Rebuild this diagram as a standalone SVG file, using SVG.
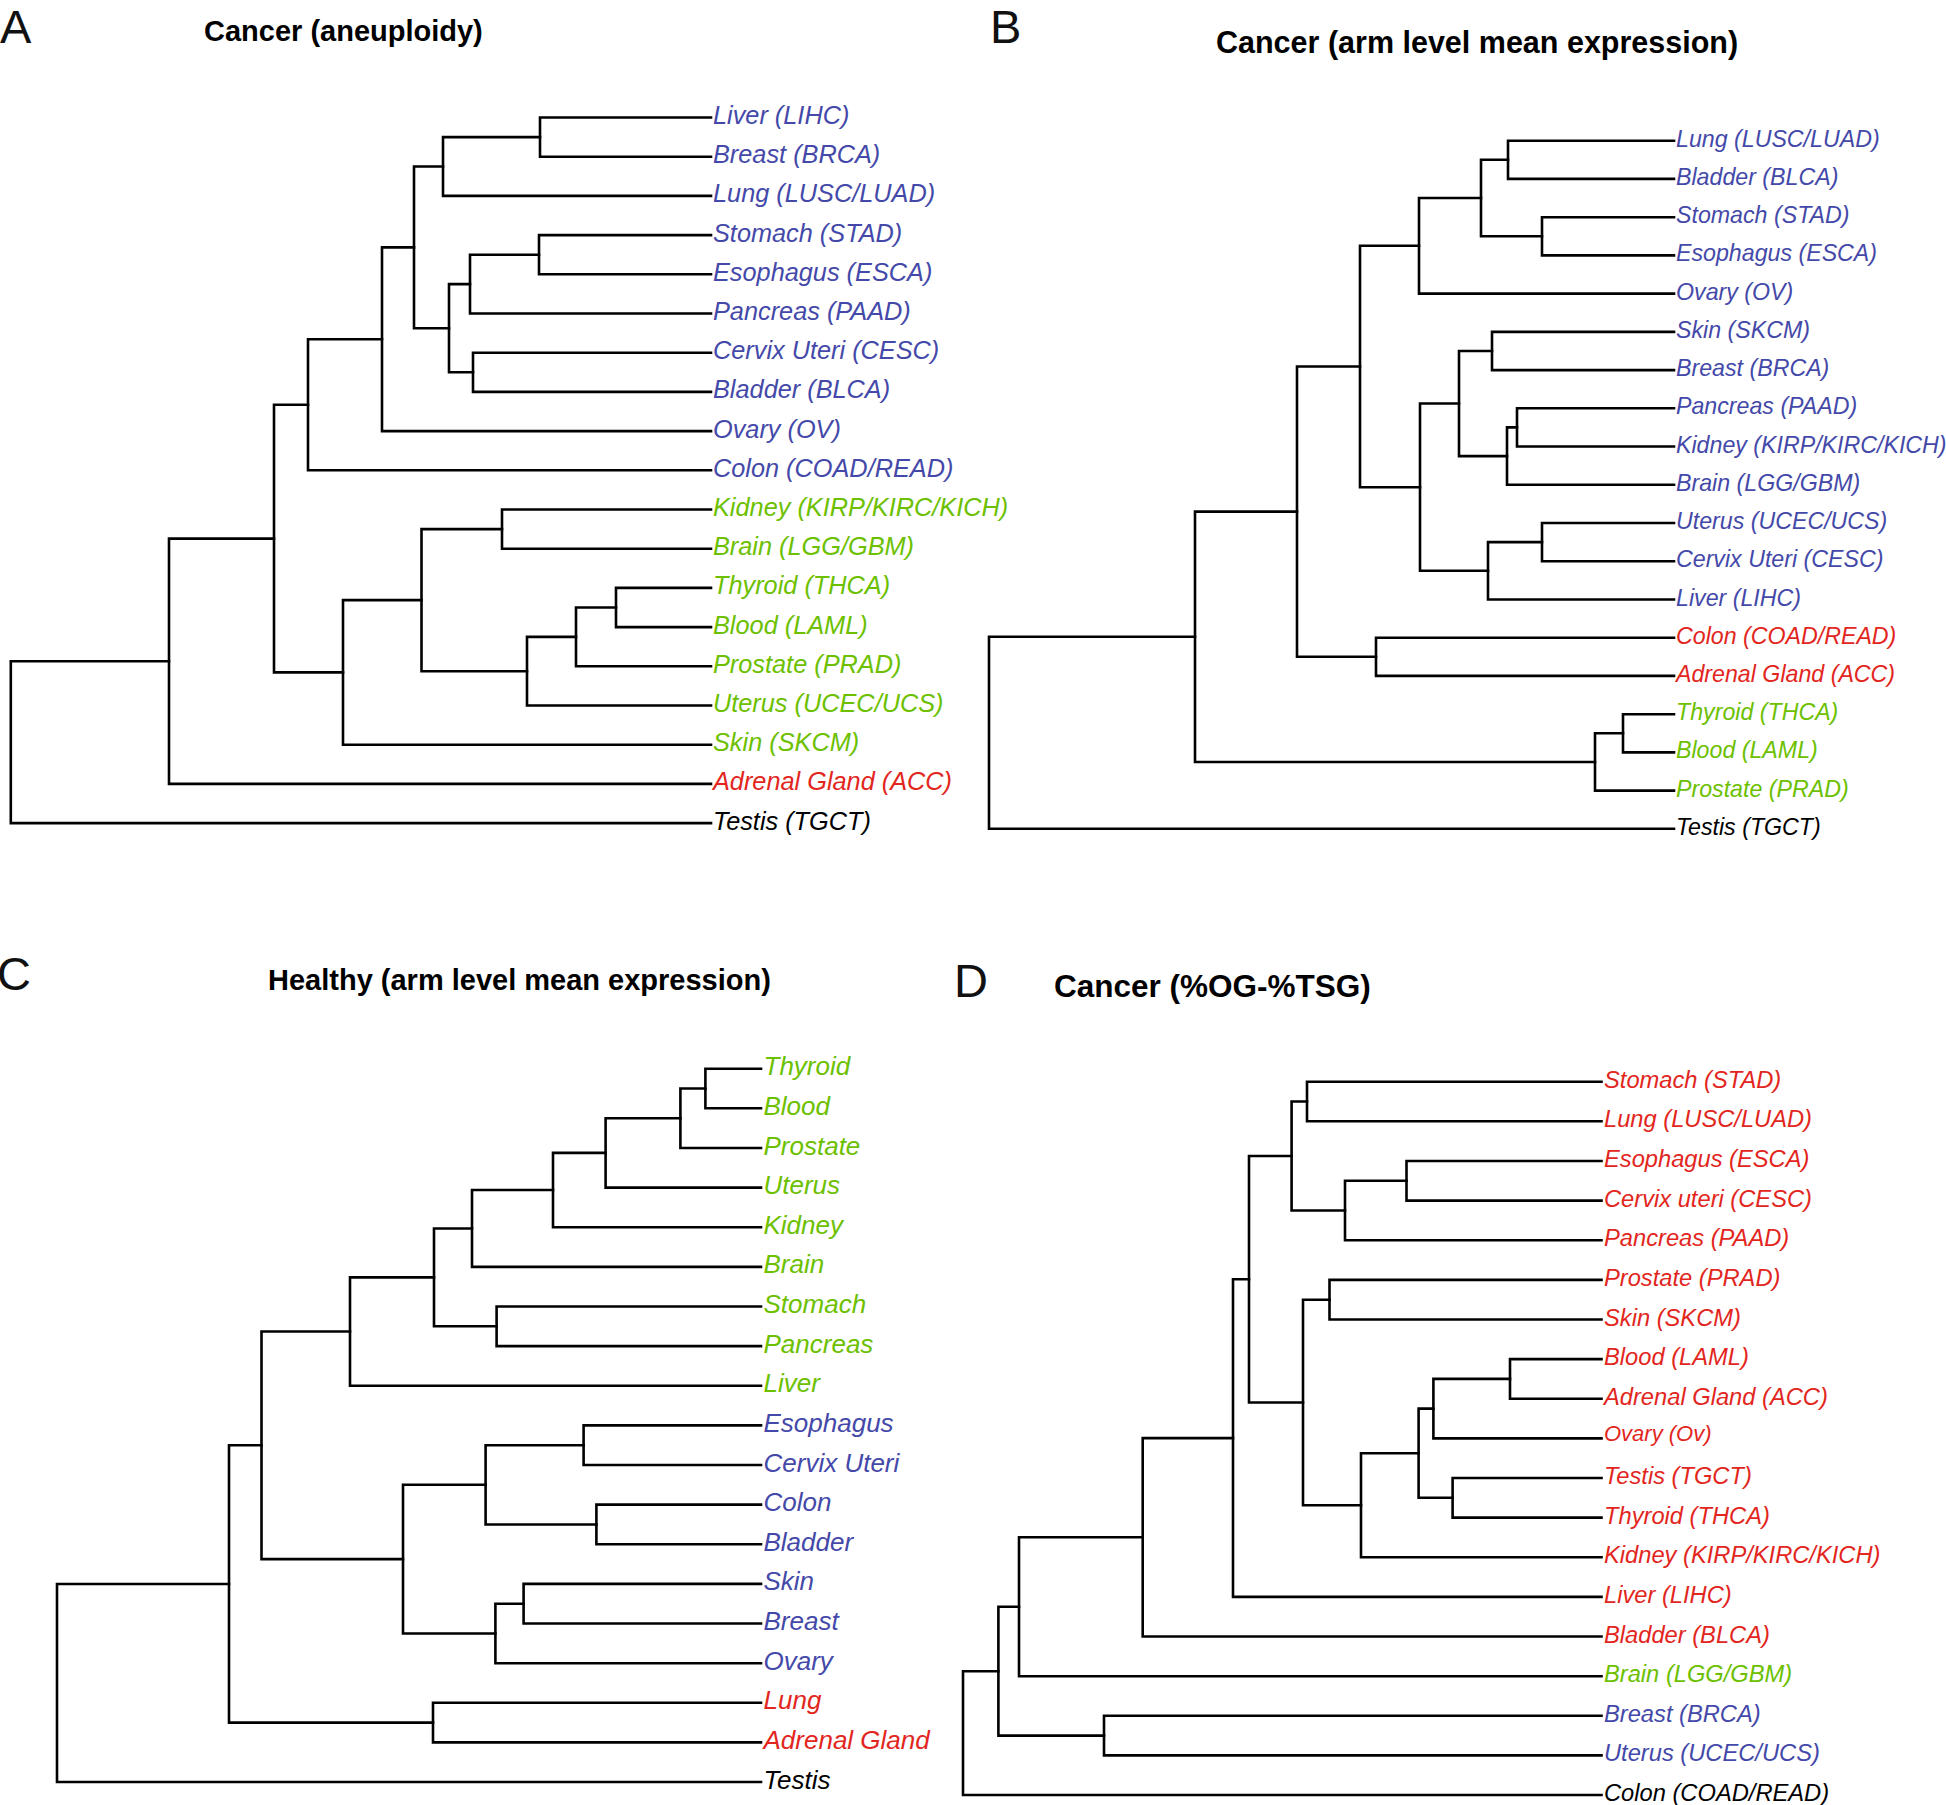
<svg xmlns="http://www.w3.org/2000/svg" width="1946" height="1805" viewBox="0 0 1946 1805">
<style>
.bg{fill:#fff}
.plabel{font-family:"Liberation Sans",Arial,sans-serif;font-size:47px;fill:#111}
.title{font-family:"Liberation Sans",Arial,sans-serif;font-weight:bold;fill:#000}
.lf{font-family:"Liberation Sans",Arial,sans-serif;font-style:italic}
.A .lf{font-size:25.3px}
.B .lf{font-size:23.2px}
.C .lf{font-size:26px}
.D .lf{font-size:23.7px}
.blue{fill:#4449a9}
.green{fill:#6cc000}
.red{fill:#e2261d}
.black{fill:#000}
.edges path{fill:none;stroke:#000;stroke-width:2.6;stroke-linecap:square;stroke-linejoin:miter}
</style>
<rect class="bg" x="0" y="0" width="1946" height="1805"/>

<!-- Panel A -->
<g id="panelA" class="A">
<text class="plabel" x="0" y="43">A</text>
<text class="title" x="204" y="41" font-size="29">Cancer (aneuploidy)</text>
<g id="A-edges" class="edges">
<path d="M711 117.5H540V156.7H711"/>
<path d="M540 137.1H443V195.9H711"/>
<path d="M711 235.1H539V274.3H711"/>
<path d="M539 254.7H470V313.5H711"/>
<path d="M711 352.7H473V391.9H711"/>
<path d="M470 284.1H449V372.3H473"/>
<path d="M443 166.5H414V328.2H449"/>
<path d="M414 247.35H382V431.1H711"/>
<path d="M382 339.2H308V470.3H711"/>
<path d="M711 509.5H502V548.7H711"/>
<path d="M711 587.9H616V627.1H711"/>
<path d="M616 607.5H576V666.3H711"/>
<path d="M576 636.9H527V705.5H711"/>
<path d="M502 529.1H421.5V671.2H527"/>
<path d="M421.5 600.15H343V744.7H711"/>
<path d="M308 404.75H274V672.4H343"/>
<path d="M274 538.6H169V783.9H711"/>
<path d="M169 661.25H10.8V823.1H711"/>
</g>
<g id="A-liver"><text class="lf blue" x="713" y="124">Liver (LIHC)</text></g>
<g id="A-breast"><text class="lf blue" x="713" y="163.2">Breast (BRCA)</text></g>
<g id="A-lung"><text class="lf blue" x="713" y="202.4">Lung (LUSC/LUAD)</text></g>
<g id="A-stomach"><text class="lf blue" x="713" y="241.6">Stomach (STAD)</text></g>
<g id="A-esophagus"><text class="lf blue" x="713" y="280.8">Esophagus (ESCA)</text></g>
<g id="A-pancreas"><text class="lf blue" x="713" y="320">Pancreas (PAAD)</text></g>
<g id="A-cervix"><text class="lf blue" x="713" y="359.2">Cervix Uteri (CESC)</text></g>
<g id="A-bladder"><text class="lf blue" x="713" y="398.4">Bladder (BLCA)</text></g>
<g id="A-ovary"><text class="lf blue" x="713" y="437.6">Ovary (OV)</text></g>
<g id="A-colon"><text class="lf blue" x="713" y="476.8">Colon (COAD/READ)</text></g>
<g id="A-kidney"><text class="lf green" x="713" y="516">Kidney (KIRP/KIRC/KICH)</text></g>
<g id="A-brain"><text class="lf green" x="713" y="555.2">Brain (LGG/GBM)</text></g>
<g id="A-thyroid"><text class="lf green" x="713" y="594.4">Thyroid (THCA)</text></g>
<g id="A-blood"><text class="lf green" x="713" y="633.6">Blood (LAML)</text></g>
<g id="A-prostate"><text class="lf green" x="713" y="672.8">Prostate (PRAD)</text></g>
<g id="A-uterus"><text class="lf green" x="713" y="712">Uterus (UCEC/UCS)</text></g>
<g id="A-skin"><text class="lf green" x="713" y="751.2">Skin (SKCM)</text></g>
<g id="A-adrenal"><text class="lf red" x="713" y="790.4">Adrenal Gland (ACC)</text></g>
<g id="A-testis"><text class="lf black" x="713" y="829.6">Testis (TGCT)</text></g>
</g>

<!-- Panel B -->
<g id="panelB" class="B">
<text class="plabel" x="990" y="43">B</text>
<text class="title" x="1216" y="53" font-size="30.5">Cancer (arm level mean expression)</text>
<g id="B-edges" class="edges">
<path d="M1674 140.7H1508V178.9H1674"/>
<path d="M1674 217.2H1542V255.4H1674"/>
<path d="M1508 159.8H1481V236.3H1542"/>
<path d="M1481 198.05H1419V293.6H1674"/>
<path d="M1674 331.9H1492V370.1H1674"/>
<path d="M1674 408.3H1517V446.5H1674"/>
<path d="M1517 427.4H1507V484.8H1674"/>
<path d="M1492 351H1459V456.1H1507"/>
<path d="M1674 523H1542V561.2H1674"/>
<path d="M1542 542.1H1488V599.5H1674"/>
<path d="M1459 403.55H1420V570.8H1488"/>
<path d="M1419 245.8H1360V487.2H1420"/>
<path d="M1674 637.7H1376V675.9H1674"/>
<path d="M1360 366.5H1297V656.8H1376"/>
<path d="M1674 714.2H1623V752.4H1674"/>
<path d="M1623 733.3H1595V790.6H1674"/>
<path d="M1297 511.65H1195V761.95H1595"/>
<path d="M1195 636.8H989V828.8H1674"/>
</g>
<g id="B-lung"><text class="lf blue" x="1676" y="146.7">Lung (LUSC/LUAD)</text></g>
<g id="B-bladder"><text class="lf blue" x="1676" y="184.9">Bladder (BLCA)</text></g>
<g id="B-stomach"><text class="lf blue" x="1676" y="223.2">Stomach (STAD)</text></g>
<g id="B-esophagus"><text class="lf blue" x="1676" y="261.4">Esophagus (ESCA)</text></g>
<g id="B-ovary"><text class="lf blue" x="1676" y="299.6">Ovary (OV)</text></g>
<g id="B-skin"><text class="lf blue" x="1676" y="337.9">Skin (SKCM)</text></g>
<g id="B-breast"><text class="lf blue" x="1676" y="376.1">Breast (BRCA)</text></g>
<g id="B-pancreas"><text class="lf blue" x="1676" y="414.3">Pancreas (PAAD)</text></g>
<g id="B-kidney"><text class="lf blue" x="1676" y="452.5">Kidney (KIRP/KIRC/KICH)</text></g>
<g id="B-brain"><text class="lf blue" x="1676" y="490.8">Brain (LGG/GBM)</text></g>
<g id="B-uterus"><text class="lf blue" x="1676" y="529">Uterus (UCEC/UCS)</text></g>
<g id="B-cervix"><text class="lf blue" x="1676" y="567.2">Cervix Uteri (CESC)</text></g>
<g id="B-liver"><text class="lf blue" x="1676" y="605.5">Liver (LIHC)</text></g>
<g id="B-colon"><text class="lf red" x="1676" y="643.7">Colon (COAD/READ)</text></g>
<g id="B-adrenal"><text class="lf red" x="1676" y="681.9">Adrenal Gland (ACC)</text></g>
<g id="B-thyroid"><text class="lf green" x="1676" y="720.2">Thyroid (THCA)</text></g>
<g id="B-blood"><text class="lf green" x="1676" y="758.4">Blood (LAML)</text></g>
<g id="B-prostate"><text class="lf green" x="1676" y="796.6">Prostate (PRAD)</text></g>
<g id="B-testis"><text class="lf black" x="1676" y="834.8">Testis (TGCT)</text></g>
</g>

<!-- Panel C -->
<g id="panelC" class="C">
<text class="plabel" x="-3" y="990">C</text>
<text class="title" x="268" y="990" font-size="29">Healthy (arm level mean expression)</text>
<g id="C-edges" class="edges">
<path d="M761 1068.7H705.4V1108.3H761"/>
<path d="M705.4 1088.5H680.4V1148H761"/>
<path d="M680.4 1118.25H605.6V1187.6H761"/>
<path d="M605.6 1152.9H553V1227.2H761"/>
<path d="M553 1190.05H472V1266.9H761"/>
<path d="M761 1306.5H496.6V1346.1H761"/>
<path d="M472 1228.5H434V1326.3H496.6"/>
<path d="M434 1277.4H350V1385.7H761"/>
<path d="M761 1425.4H583.6V1465H761"/>
<path d="M761 1504.6H596.4V1544.3H761"/>
<path d="M583.6 1445.2H485.6V1524.45H596.4"/>
<path d="M761 1583.9H523.6V1623.5H761"/>
<path d="M523.6 1603.7H495.4V1663.2H761"/>
<path d="M485.6 1484.8H403V1633.45H495.4"/>
<path d="M350 1331.55H261.5V1559.1H403"/>
<path d="M761 1702.8H433V1742.4H761"/>
<path d="M261.5 1445.3H229V1722.6H433"/>
<path d="M229 1583.95H57V1782H761"/>
</g>
<g id="C-thyroid"><text class="lf green" x="763.5" y="1075.2">Thyroid</text></g>
<g id="C-blood"><text class="lf green" x="763.5" y="1114.8">Blood</text></g>
<g id="C-prostate"><text class="lf green" x="763.5" y="1154.5">Prostate</text></g>
<g id="C-uterus"><text class="lf green" x="763.5" y="1194.1">Uterus</text></g>
<g id="C-kidney"><text class="lf green" x="763.5" y="1233.7">Kidney</text></g>
<g id="C-brain"><text class="lf green" x="763.5" y="1273.4">Brain</text></g>
<g id="C-stomach"><text class="lf green" x="763.5" y="1313">Stomach</text></g>
<g id="C-pancreas"><text class="lf green" x="763.5" y="1352.6">Pancreas</text></g>
<g id="C-liver"><text class="lf green" x="763.5" y="1392.2">Liver</text></g>
<g id="C-esophagus"><text class="lf blue" x="763.5" y="1431.9">Esophagus</text></g>
<g id="C-cervix"><text class="lf blue" x="763.5" y="1471.5">Cervix Uteri</text></g>
<g id="C-colon"><text class="lf blue" x="763.5" y="1511.1">Colon</text></g>
<g id="C-bladder"><text class="lf blue" x="763.5" y="1550.8">Bladder</text></g>
<g id="C-skin"><text class="lf blue" x="763.5" y="1590.4">Skin</text></g>
<g id="C-breast"><text class="lf blue" x="763.5" y="1630">Breast</text></g>
<g id="C-ovary"><text class="lf blue" x="763.5" y="1669.7">Ovary</text></g>
<g id="C-lung"><text class="lf red" x="763.5" y="1709.3">Lung</text></g>
<g id="C-adrenal"><text class="lf red" x="763.5" y="1748.9">Adrenal Gland</text></g>
<g id="C-testis"><text class="lf black" x="763.5" y="1788.5">Testis</text></g>
</g>

<!-- Panel D -->
<g id="panelD" class="D">
<text class="plabel" x="954" y="997">D</text>
<text class="title" x="1054" y="997" font-size="31.5">Cancer (%OG-%TSG)</text>
<g id="D-edges" class="edges">
<path d="M1601.5 1081.7H1307V1121.3H1601.5"/>
<path d="M1601.5 1161H1406.5V1200.6H1601.5"/>
<path d="M1406.5 1180.8H1345V1240.2H1601.5"/>
<path d="M1307 1101.5H1291.6V1210.5H1345"/>
<path d="M1601.5 1279.9H1329.5V1319.5H1601.5"/>
<path d="M1601.5 1359.1H1510V1398.7H1601.5"/>
<path d="M1510 1378.9H1433.4V1438.4H1601.5"/>
<path d="M1601.5 1478H1452.6V1517.6H1601.5"/>
<path d="M1433.4 1408.65H1418.6V1497.8H1452.6"/>
<path d="M1418.6 1453.2H1361V1557.3H1601.5"/>
<path d="M1329.5 1299.7H1303V1505.25H1361"/>
<path d="M1291.6 1156H1249V1402.5H1303"/>
<path d="M1249 1279.25H1233V1596.9H1601.5"/>
<path d="M1233 1438.1H1142.7V1636.5H1601.5"/>
<path d="M1142.7 1537.3H1019V1676.2H1601.5"/>
<path d="M1601.5 1715.8H1104V1755.4H1601.5"/>
<path d="M1019 1606.75H998.4V1735.6H1104"/>
<path d="M998.4 1671.2H963V1795H1601.5"/>
</g>
<g id="D-stomach"><text class="lf red" x="1604" y="1087.7">Stomach (STAD)</text></g>
<g id="D-lung"><text class="lf red" x="1604" y="1127.3">Lung (LUSC/LUAD)</text></g>
<g id="D-esophagus"><text class="lf red" x="1604" y="1167">Esophagus (ESCA)</text></g>
<g id="D-cervix"><text class="lf red" x="1604" y="1206.6">Cervix uteri (CESC)</text></g>
<g id="D-pancreas"><text class="lf red" x="1604" y="1246.2">Pancreas (PAAD)</text></g>
<g id="D-prostate"><text class="lf red" x="1604" y="1285.9">Prostate (PRAD)</text></g>
<g id="D-skin"><text class="lf red" x="1604" y="1325.5">Skin (SKCM)</text></g>
<g id="D-blood"><text class="lf red" x="1604" y="1365.1">Blood (LAML)</text></g>
<g id="D-adrenal"><text class="lf red" x="1604" y="1404.7">Adrenal Gland (ACC)</text></g>
<g id="D-ovary"><text class="lf red" x="1604" y="1441" style="font-size:22px">Ovary (Ov)</text></g>
<g id="D-testis"><text class="lf red" x="1604" y="1484">Testis (TGCT)</text></g>
<g id="D-thyroid"><text class="lf red" x="1604" y="1523.6">Thyroid (THCA)</text></g>
<g id="D-kidney"><text class="lf red" x="1604" y="1563.3">Kidney (KIRP/KIRC/KICH)</text></g>
<g id="D-liver"><text class="lf red" x="1604" y="1602.9">Liver (LIHC)</text></g>
<g id="D-bladder"><text class="lf red" x="1604" y="1642.5">Bladder (BLCA)</text></g>
<g id="D-brain"><text class="lf green" x="1604" y="1682.2">Brain (LGG/GBM)</text></g>
<g id="D-breast"><text class="lf blue" x="1604" y="1721.8">Breast (BRCA)</text></g>
<g id="D-uterus"><text class="lf blue" x="1604" y="1761.4">Uterus (UCEC/UCS)</text></g>
<g id="D-colon"><text class="lf black" x="1604" y="1801">Colon (COAD/READ)</text></g>
</g>
</svg>
